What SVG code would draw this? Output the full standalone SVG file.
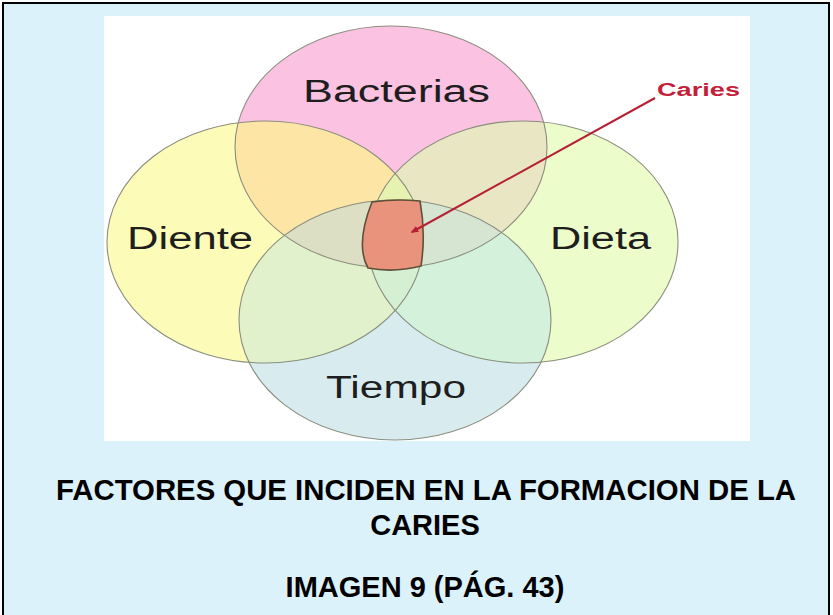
<svg xmlns="http://www.w3.org/2000/svg" width="833" height="615" viewBox="0 0 833 615">
<style>
.lbl{font-family:"Liberation Sans",Arial,sans-serif;font-size:31px;fill:#1e1e1e}
.cap{font-family:"Liberation Sans",Arial,sans-serif;font-size:29px;font-weight:bold;fill:#000;text-anchor:middle}
.ol{fill:none;stroke:#8a8e7e;stroke-width:1.1}
</style>
<defs>
<clipPath id="cD"><ellipse cx="265" cy="242" rx="158" ry="121"/></clipPath>
<clipPath id="cDi"><ellipse cx="523" cy="242" rx="155" ry="121"/></clipPath>
<clipPath id="cB"><ellipse cx="391" cy="147" rx="156" ry="121"/></clipPath>
<clipPath id="cT"><ellipse cx="395" cy="320" rx="156" ry="120"/></clipPath>
<marker id="ah" viewBox="0 0 10 10" refX="8" refY="5" markerWidth="4" markerHeight="4" orient="auto"><path d="M0,1 L10,5 L0,9 Z" fill="#b52035"/></marker>
</defs>
<rect x="0" y="0" width="833" height="615" fill="#ffffff"/>
<rect x="3" y="3" width="826" height="630" fill="#dcf2fb" stroke="#000" stroke-width="2"/>
<rect x="104" y="16" width="646" height="425" fill="#ffffff"/>

<g id="fills">
<ellipse cx="265" cy="242" rx="158" ry="121" fill="#fdfbb8"/>
<ellipse cx="523" cy="242" rx="155" ry="121" fill="#edfccb"/>
<ellipse cx="391" cy="147" rx="156" ry="121" fill="#fbc3e1"/>
<ellipse cx="395" cy="320" rx="156" ry="120" fill="#d8ecf0"/>
<g clip-path="url(#cD)"><ellipse cx="391" cy="147" rx="156" ry="121" fill="#fde5a6"/></g>
<g clip-path="url(#cDi)"><ellipse cx="391" cy="147" rx="156" ry="121" fill="#e9e6c3"/></g>
<g clip-path="url(#cD)"><ellipse cx="395" cy="320" rx="156" ry="120" fill="#e1f1cb"/></g>
<g clip-path="url(#cDi)"><ellipse cx="395" cy="320" rx="156" ry="120" fill="#d4f2db"/></g>
<g clip-path="url(#cD)"><ellipse cx="523" cy="242" rx="155" ry="121" fill="#e5f2b4"/></g>
<g clip-path="url(#cD)"><g clip-path="url(#cDi)"><ellipse cx="391" cy="147" rx="156" ry="121" fill="#e5f2b0"/></g></g>
<g clip-path="url(#cD)"><g clip-path="url(#cB)"><ellipse cx="395" cy="320" rx="156" ry="120" fill="#dddfc4"/></g></g>
<g clip-path="url(#cDi)"><g clip-path="url(#cB)"><ellipse cx="395" cy="320" rx="156" ry="120" fill="#d5e5d2"/></g></g>
<g clip-path="url(#cD)"><g clip-path="url(#cDi)"><ellipse cx="395" cy="320" rx="156" ry="120" fill="#d4efd2"/></g></g>
</g>

<g id="diente">
<ellipse class="ol" cx="265" cy="242" rx="158" ry="121"/>
<text class="lbl" x="127" y="249" textLength="126" lengthAdjust="spacingAndGlyphs">Diente</text>
</g>
<g id="dieta">
<ellipse class="ol" cx="523" cy="242" rx="155" ry="121"/>
<text class="lbl" x="550" y="249" textLength="101" lengthAdjust="spacingAndGlyphs">Dieta</text>
</g>
<g id="bacterias">
<ellipse class="ol" cx="391" cy="147" rx="156" ry="121"/>
<text class="lbl" x="303" y="102" textLength="187" lengthAdjust="spacingAndGlyphs">Bacterias</text>
</g>
<g id="tiempo">
<ellipse class="ol" cx="395" cy="320" rx="156" ry="120"/>
<text class="lbl" x="326" y="398" textLength="140" lengthAdjust="spacingAndGlyphs">Tiempo</text>
</g>
<g id="caries-zone">
<path d="M372,202 Q396,198.5 420,201 Q426,233 421,266 Q394,273 368,268 Q355,245 372,202 Z" fill="#e9937c" stroke="#5e5038" stroke-width="1.6"/>
</g>
<g id="caries-label">
<text x="657" y="96" font-family="Liberation Sans, Arial, sans-serif" font-size="18" font-weight="bold" fill="#c41e3a" textLength="83" lengthAdjust="spacingAndGlyphs">Caries</text>
</g>
<g id="connectors">
<line x1="655" y1="98" x2="412" y2="232" stroke="#b52035" stroke-width="2" marker-end="url(#ah)"/>
</g>
<g id="caption">
<text class="cap" x="426" y="500" textLength="740" lengthAdjust="spacingAndGlyphs">FACTORES QUE INCIDEN EN LA FORMACION DE LA</text>
<text class="cap" x="425" y="535">CARIES</text>
<text class="cap" x="425" y="597">IMAGEN 9 (PÁG. 43)</text>
</g>
</svg>
